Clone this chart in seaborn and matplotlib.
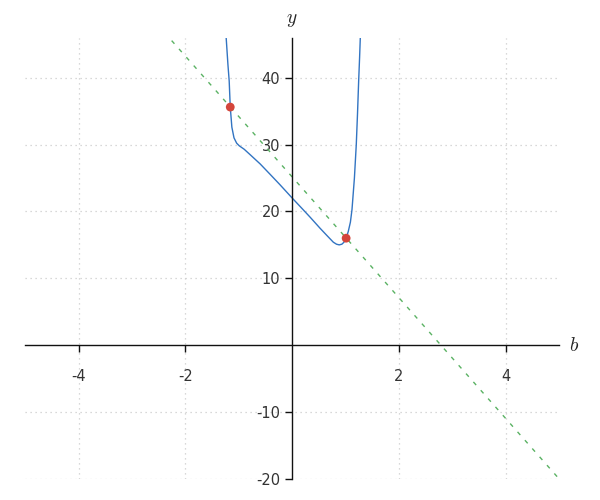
import matplotlib
matplotlib.use("Agg")
import matplotlib.pyplot as plt
import numpy as np
import pandas as pd
import seaborn as sns

# curve, b -> y
curve_b = [-1.245, -1.204, -1.180, -1.160, -1.130, -1.090, -1.040, -0.990,
           -0.900, -0.790, -0.600, -0.420, -0.230, 0.000, 0.200, 0.340,
           0.520, 0.650, 0.710, 0.770, 0.830, 0.880, 0.930, 0.970, 1.010,
           1.050, 1.090, 1.120, 1.165, 1.200, 1.223, 1.245, 1.262, 1.280]
curve_y = [47.0, 42.0, 39.5, 35.6, 32.6, 31.0, 30.2, 29.8,
           29.3, 28.5, 27.1, 25.6, 24.0, 22.0, 20.3, 19.1,
           17.5, 16.4, 15.9, 15.4, 15.1, 15.0, 15.1, 15.4, 16.0,
           17.0, 18.4, 20.3, 25.0, 30.0, 34.6, 39.6, 43.0, 47.0]

# secant line through the two marked points
line_b = [-5.0, 5.0]
line_y = [70.3, -20.0]
point_b = [-1.16, 1.01]
point_y = [35.6, 16.0]

x_ticks = [-4, -2, 2, 4]
y_ticks = [-20, -10, 10, 20, 30, 40]

sns.set_style("white")
plt.rcParams["mathtext.fontset"] = "cm"
plt.rcParams["axes.unicode_minus"] = False

fig = plt.figure(figsize=(6, 5), dpi=100)
ax = fig.add_axes([0.042, 0.042, 0.89, 0.883])

curve_df = pd.DataFrame({"b": curve_b, "y": curve_y})
sns.lineplot(data=curve_df, x="b", y="y", ax=ax, color="#3274c2",
             linewidth=1.0, sort=False, estimator=None)
sns.lineplot(x=line_b, y=line_y, ax=ax, color="#5ab263", linewidth=1.0,
             linestyle=(0, (3, 5)))
sns.scatterplot(x=point_b, y=point_y, ax=ax, color="#d4453b", s=40,
                edgecolor="none", zorder=5)

ax.set_xlim(-5, 5)
ax.set_ylim(-20, 46)
ax.set_xticks(x_ticks)
ax.set_yticks(y_ticks)
ax.grid(True, color="#cccccc", linestyle=(0, (1, 3)), linewidth=0.9)

ax.spines["left"].set_position(("data", 0))
ax.spines["bottom"].set_position(("data", 0))
ax.spines["right"].set_visible(False)
ax.spines["top"].set_visible(False)
for s in ("left", "bottom"):
    ax.spines[s].set_color("#111111")
    ax.spines[s].set_linewidth(1.0)

ax.tick_params(axis="both", direction="out", length=5, width=1,
               color="#111111", labelcolor="#333333", labelsize=10.5,
               bottom=True, left=True)
ax.tick_params(axis="x", pad=12)

ax.set_xlabel("")
ax.set_ylabel("")
ax.text(5.18, 0, "$b$", fontsize=14, ha="left", va="center")
ax.text(0, 47.2, "$y$", fontsize=14, ha="center", va="bottom")

fig.savefig("out.png", dpi=100)
